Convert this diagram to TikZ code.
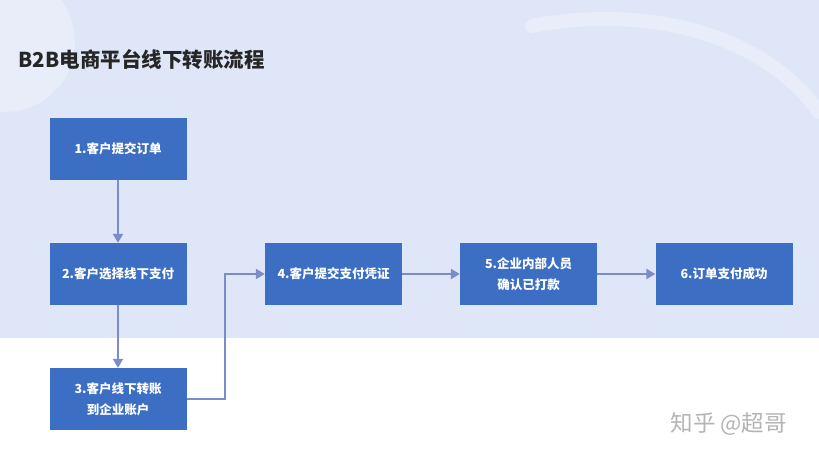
\documentclass[tikz,border=0pt]{standalone}
\usepackage{fontspec}
\setmainfont{Noto Sans CJK SC}
\usetikzlibrary{arrows.meta}
\definecolor{bgblue}{HTML}{DFE6F7}
\definecolor{bglight}{HTML}{E8EDF9}
\definecolor{boxblue}{HTML}{3C6EC4}
\definecolor{arrowc}{HTML}{7A8DC8}
\definecolor{wmgray}{HTML}{B4B4B4}
\tikzset{
  x=1pt, y=-1pt,
  stepbox/.style={rectangle, fill=boxblue, minimum width=137pt, minimum height=62pt,
    inner sep=0pt, align=center, text=white, font=\fontsize{12.5}{21}\selectfont\bfseries},
  conn/.style={draw=arrowc, line width=2.2pt, -{Triangle[width=10pt,length=9pt]}},
}
\begin{document}
\begin{tikzpicture}
\useasboundingbox (0,0) rectangle (819,458);
% background
\fill[white] (0,0) rectangle (819,458);
\fill[bgblue] (0,0) rectangle (819,338);
\begin{scope}
\clip (0,0) rectangle (819,338);
\fill[bglight] (5,42) circle (70);
\draw[bglight, line width=14pt, line cap=round] (532,26) .. controls (640,5) and (760,30) .. (819,112);
\end{scope}
% title
\node[anchor=west, font=\fontsize{20.5}{24}\selectfont\bfseries, text=black!85] (title) at (15,60) {B2B电商平台线下转账流程};
% boxes
\node[stepbox] (b1) at (118,149) {1.客户提交订单};
\node[stepbox] (b2) at (118,274) {2.客户选择线下支付};
\node[stepbox] (b3) at (118,399) {3.客户线下转账\\到企业账户};
\node[stepbox] (b4) at (333.5,274) {4.客户提交支付凭证};
\node[stepbox] (b5) at (528.5,274) {5.企业内部人员\\确认已打款};
\node[stepbox] (b6) at (724,274) {6.订单支付成功};
% connectors
\draw[conn] (b1) -- (b2);
\draw[conn] (b2) -- (b3);
\coordinate (k1) at (225,399);
\coordinate (k2) at (225,274);
\draw[conn] (b3.east) -- (k1) -- (k2) -- (b4.west);
\draw[conn] (b4) -- (b5);
\draw[conn] (b5) -- (b6);
% watermark
\node[anchor=west, font=\fontsize{22.5}{26}\selectfont, text=wmgray] (wm) at (667,424) {知乎 @超哥};
\end{tikzpicture}
\end{document}
